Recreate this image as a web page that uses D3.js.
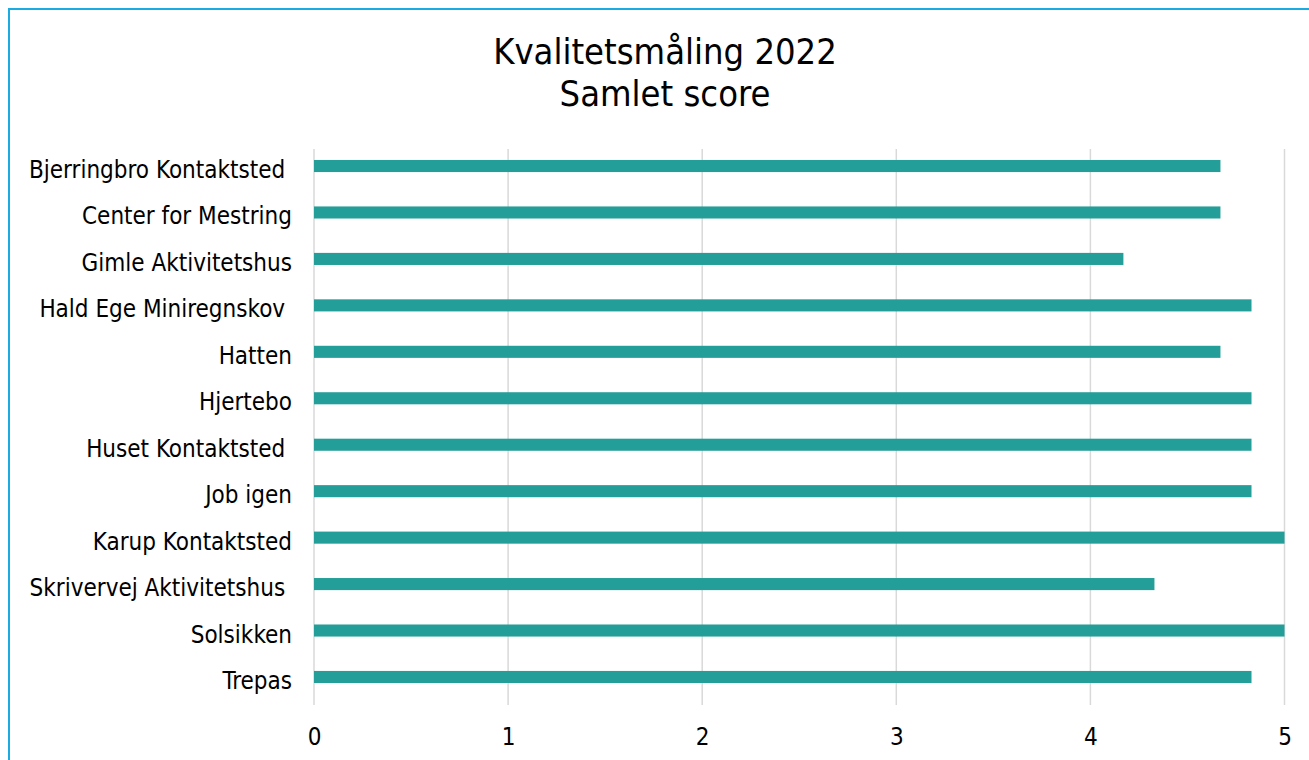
<!DOCTYPE html>
<html>
<head>
<meta charset="utf-8">
<script src="https://cdn.jsdelivr.net/npm/d3@7"></script>
<style>
  body { margin: 0; background: #fff; }
  text { font-family: "DejaVu Sans Condensed", "DejaVu Sans", sans-serif; }
</style>
</head>
<body>
<div id="chart-area"></div>
<script>
const MARGIN = { LEFT: 314, RIGHT: 25, TOP: 149, BOTTOM: 55 }
const WIDTH = 1309 - MARGIN.LEFT - MARGIN.RIGHT
const HEIGHT = 760 - MARGIN.TOP - MARGIN.BOTTOM

const titleLines = ["Kvalitetsmåling 2022", "Samlet score"]
const categories = [
  "Bjerringbro Kontaktsted ", "Center for Mestring", "Gimle Aktivitetshus",
  "Hald Ege Miniregnskov ", "Hatten", "Hjertebo", "Huset Kontaktsted ",
  "Job igen", "Karup Kontaktsted", "Skrivervej Aktivitetshus ", "Solsikken", "Trepas"
]
const scores = [4.67, 4.67, 4.17, 4.83, 4.67, 4.83, 4.83, 4.83, 5, 4.33, 5, 4.83]
const xTicks = [0, 1, 2, 3, 4, 5]

const data = categories.map((c, i) => ({ name: c, score: scores[i] }))

const FONT = "'DejaVu Sans Condensed', 'DejaVu Sans', sans-serif"

const svg = d3.select("#chart-area").append("svg")
  .attr("width", 1309)
  .attr("height", 760)

// outer frame
svg.append("rect")
  .attr("x", 9)
  .attr("y", 9)
  .attr("width", 1320)
  .attr("height", 780)
  .attr("fill", "none")
  .attr("stroke", "#1aabe3")
  .attr("stroke-width", 2)

// Title
svg.append("text")
  .attr("text-anchor", "middle")
  .style("font-size", "36px")
  .attr("fill", "#000")
  .selectAll("tspan")
  .data(titleLines)
  .enter().append("tspan")
    .attr("x", 665)
    .attr("y", (d, i) => 64 + i * 42)
    .text(d => d)

const g = svg.append("g")
  .attr("transform", `translate(${MARGIN.LEFT}, ${MARGIN.TOP})`)

const x = d3.scaleLinear()
  .domain([0, 5])
  .range([0, 970.5])

// bands are centred a little higher than the grid area
const y = d3.scaleBand()
  .domain(categories)
  .range([-6.2, 551.2])
  .paddingInner(0.74)
  .paddingOuter(0.37)

// grid
g.selectAll(".grid")
  .data(xTicks)
  .enter().append("line")
    .attr("class", "grid")
    .attr("x1", d => x(d))
    .attr("x2", d => x(d))
    .attr("y1", 0)
    .attr("y2", HEIGHT)
    .attr("stroke", "#d9d9d9")
    .attr("stroke-width", 1.5)

const xAxisCall = d3.axisBottom(x)
  .tickValues(xTicks)
  .tickSize(0)
  .tickPadding(23)
  .tickFormat(d3.format("d"))

const xAxis = g.append("g")
  .attr("class", "x axis")
  .attr("transform", `translate(0, ${HEIGHT})`)
  .call(xAxisCall)
xAxis.select(".domain").remove()
xAxis.selectAll("text")
  .style("font-size", "24px")
  .attr("fill", "#000")
  .style("font-family", FONT)

const yAxisCall = d3.axisLeft(y)
  .tickSize(0)
  .tickPadding(22)

const yAxis = g.append("g")
  .attr("class", "y axis")
  .call(yAxisCall)
yAxis.select(".domain").remove()
yAxis.selectAll("text")
  .attr("dy", "0.5em")
  .style("font-size", "24px")
  .style("white-space", "pre")
  .attr("fill", "#000")
  .style("font-family", FONT)

g.selectAll(".bar")
  .data(data)
  .enter().append("rect")
    .attr("class", "bar")
    .attr("x", x(0))
    .attr("y", d => y(d.name))
    .attr("width", d => x(d.score) - x(0))
    .attr("height", y.bandwidth())
    .attr("fill", "#239e98")
</script>
</body>
</html>
